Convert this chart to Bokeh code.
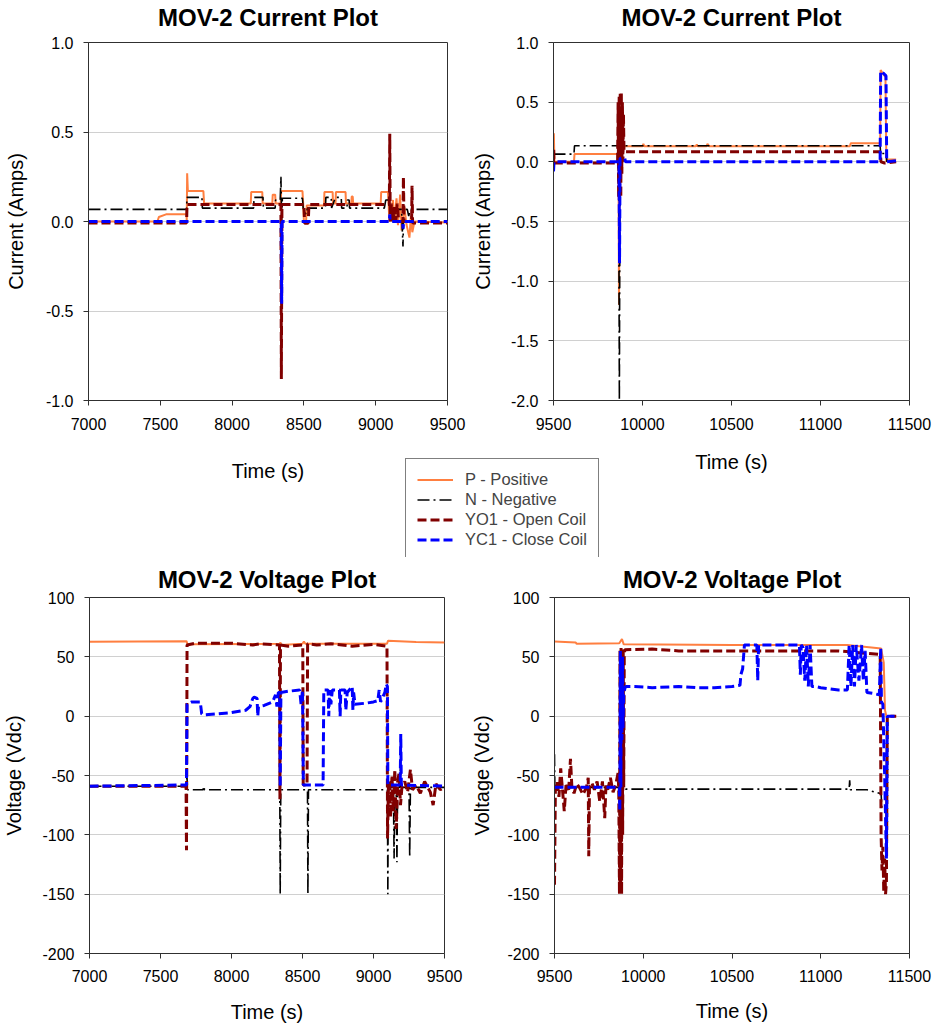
from bokeh.plotting import figure
from bokeh.models import (Range1d, FixedTicker, NumeralTickFormatter, Legend, LegendItem)
from bokeh.layouts import column, row
from bokeh.embed import file_html
from bokeh.resources import INLINE

FONT = "Liberation Sans"

# ---------------- tick labels / ranges ----------------
x_ticks_a = [7000, 7500, 8000, 8500, 9000, 9500]
x_ticks_b = [9500, 10000, 10500, 11000, 11500]
cur_ticks_a = [-1.0, -0.5, 0.0, 0.5, 1.0]
cur_ticks_b = [-2.0, -1.5, -1.0, -0.5, 0.0, 0.5, 1.0]
volt_ticks = [-200, -150, -100, -50, 0, 50, 100]

series_names = ["P - Positive", "N - Negative", "YO1 - Open Coil", "YC1 - Close Coil"]

# ---------------- MOV-2 current, 7000-9500 s (time, amps) ----------------
cur1_P = [(7000, 0), (7480, 0), (7490, 0.025), (7540, 0.04), (7683, 0.04), (7684, 0.0), (7687, 0.27),
          (7692, 0.17), (7800, 0.17), (7805, 0.10), (8130, 0.10), (8133, 0.165), (8210, 0.165),
          (8213, 0.10), (8280, 0.10), (8283, 0.15), (8300, 0.15), (8303, 0.10), (8338, 0.10),
          (8342, 0.17), (8490, 0.17), (8495, 0.10), (8500, 0.0), (8515, 0.0), (8520, 0.09),
          (8640, 0.09), (8643, 0.165), (8700, 0.165), (8703, 0.10), (8720, 0.10), (8723, 0.165),
          (8790, 0.165), (8793, 0.10), (8830, 0.10), (8833, 0.14), (8840, 0.14), (8843, 0.10),
          (9035, 0.10), (9038, 0.165), (9085, 0.165), (9090, 0.10), (9095, 0.0), (9120, 0.12),
          (9130, 0.0), (9145, 0.13), (9155, -0.02), (9170, 0.15), (9180, -0.05), (9200, 0.08),
          (9215, -0.02), (9235, -0.09), (9245, 0.03), (9255, -0.06), (9270, 0.0), (9500, -0.005)]
cur1_N = [(7000, 0.068), (7683, 0.068), (7686, 0.135), (7790, 0.135), (7793, 0.075), (8150, 0.075),
          (8153, 0.135), (8215, 0.135), (8218, 0.075), (8300, 0.075), (8303, 0.12), (8335, 0.12),
          (8340, 0.25), (8345, 0.0), (8350, 0.13), (8490, 0.13), (8495, 0.075), (8515, 0.04),
          (8525, 0.075), (8650, 0.075), (8653, 0.135), (8690, 0.135), (8693, 0.075), (8720, 0.135),
          (8760, 0.135), (8763, 0.075), (8800, 0.075), (8803, 0.12), (8815, 0.12), (8818, 0.075),
          (9060, 0.075), (9070, 0.12), (9090, 0.12), (9095, 0.068), (9180, 0.068), (9190, -0.14),
          (9195, 0.068), (9220, 0.068), (9230, 0.03), (9240, 0.068), (9500, 0.068)]
cur1_YO1 = [(7000, -0.008), (7683, -0.008), (7686, 0.095), (8340, 0.095), (8343, -0.88), (8347, 0.095),
            (8500, 0.095), (8505, -0.01), (8530, -0.01), (8535, 0.095), (9095, 0.095), (9098, 0.49),
            (9101, 0.0), (9110, 0.1), (9120, 0.0), (9130, 0.08), (9140, 0.0), (9150, 0.1), (9160, 0.0),
            (9190, 0.0), (9193, 0.25), (9197, 0.0), (9250, 0.0), (9253, 0.20), (9257, -0.008),
            (9500, -0.008)]
cur1_YC1 = [(7000, 0.0), (8342, 0.0), (8345, -0.46), (8348, 0.0), (9095, 0.0), (9098, 0.04),
            (9101, 0.0), (9188, 0.0), (9191, -0.04), (9194, 0.0), (9500, 0.0)]

# ---------------- MOV-2 current, 9500-11500 s ----------------
cur2_P = [(9500, 0.0), (9502, 0.24), (9505, 0.0), (9615, 0.0), (9618, 0.065), (9865, 0.065),
          (9868, -1.2), (9872, 0.13), (9880, 0.0), (9890, 0.13), (10000, 0.13), (10005, 0.15),
          (10010, 0.13), (10300, 0.13), (10305, 0.145), (10310, 0.13), (10360, 0.13), (10365, 0.15),
          (10375, 0.13), (11165, 0.13), (11170, 0.155), (11335, 0.155), (11338, 0.77), (11350, 0.74),
          (11365, 0.71), (11370, 0.0), (11380, 0.02), (11425, 0.02)]
cur2_N = [(9500, 0.065), (9615, 0.065), (9618, 0.135), (9866, 0.135), (9870, -2.0), (9874, 0.135),
          (11335, 0.135), (11338, 0.07), (11370, 0.07), (11373, 0.0)]
cur2_YO1 = [(9500, -0.01), (9501, 0.1), (9503, -0.01), (9860, -0.01), (9863, 0.5), (9866, -0.3),
            (9869, 0.55), (9872, -0.2), (9875, 0.58), (9878, -0.3), (9881, 0.58), (9884, -0.1),
            (9887, 0.5), (9890, 0.0), (9893, 0.4), (9896, 0.085), (11335, 0.085), (11340, 0.0),
            (11360, -0.01), (11425, 0.0)]
cur2_YC1 = [(9500, -0.08), (9503, 0.0), (9868, 0.0), (9871, -0.85), (9874, 0.03), (9900, 0.03),
            (9905, 0.0), (11335, 0.0), (11338, 0.76), (11355, 0.74), (11368, 0.72), (11372, 0.0),
            (11425, 0.01)]

# ---------------- MOV-2 voltage, 7000-9500 s (time, Vdc) ----------------
volt1_P = [(7000, 62.8), (7683, 63.2), (7690, 60.5), (8340, 61), (8345, 62), (8350, 60), (8500, 61),
           (8510, 63), (8520, 61), (9095, 61), (9102, 63.5), (9300, 62.5), (9500, 62)]
volt1_N = [(7000, -59), (7683, -59), (7686, -48), (7690, -62), (7800, -62), (7805, -59), (7810, -62),
           (8340, -62), (8343, -150), (8347, -62), (8535, -62), (8538, -150), (8542, -62),
           (9098, -62), (9101, -150), (9104, -60), (9140, -60), (9145, -120), (9150, -60),
           (9160, -60), (9165, -123), (9170, -60), (9185, -60), (9190, -43), (9195, -60),
           (9250, -60), (9255, -119), (9260, -60), (9500, -60)]
volt1_YO1 = [(7000, -59), (7680, -59), (7683, -113), (7687, 60), (7750, 61.5), (8000, 61.5),
             (8150, 60), (8200, 61), (8338, 60), (8341, -70), (8345, 60), (8400, 59), (8502, 60),
             (8505, -58), (8532, -58), (8536, 61), (8600, 60), (8700, 61), (8850, 59), (9000, 60.5),
             (9095, 59), (9099, -103), (9105, -60), (9115, -55), (9120, -85), (9130, -50),
             (9140, -80), (9150, -45), (9160, -95), (9170, -55), (9180, -48), (9190, -75),
             (9200, -60), (9220, -55), (9240, -64), (9260, -45), (9275, -62), (9300, -58),
             (9330, -65), (9360, -55), (9400, -64), (9420, -75), (9440, -57), (9470, -62),
             (9500, -60)]
volt1_YC1 = [(7000, -59), (7683, -58), (7687, 10), (7720, 12), (7780, 12), (7790, 2), (7800, 1),
             (7900, 2), (8000, 3), (8100, 5), (8130, 8), (8150, 15), (8160, 16), (8180, 15),
             (8185, 0), (8190, 8), (8230, 9), (8290, 12), (8310, 18), (8320, 8), (8330, 20),
             (8340, 20), (8343, -60), (8348, 20), (8400, 21), (8480, 22), (8490, 10), (8500, 22),
             (8506, -58), (8645, -58), (8650, 22), (8680, 22), (8685, 0), (8690, 22), (8700, 10),
             (8710, 22), (8760, 22), (8765, 0), (8770, 22), (8800, 22), (8805, 5), (8815, 20),
             (8850, 25), (8855, 5), (8860, 20), (8870, 10), (8950, 11), (9000, 12), (9030, 13),
             (9040, 22), (9050, 12), (9080, 20), (9090, 27), (9098, 25), (9101, -58), (9188, -58),
             (9192, -15), (9196, -58), (9500, -59)]

# ---------------- MOV-2 voltage, 9500-11500 s ----------------
volt2_P = [(9500, 62.9), (9620, 62), (9625, 61), (9865, 61.5), (9880, 65), (9890, 60.5), (10500, 60),
           (11150, 60), (11340, 57), (11355, 45), (11362, 5), (11370, 0), (11425, 0)]
volt2_N = [(9500, -32), (9502, -60), (9865, -60), (9900, -61.5), (11160, -61.5), (11163, -54),
           (11166, -62), (11260, -62), (11330, -65), (11340, -65), (11345, -80)]
volt2_YO1 = [(9500, -142), (9505, -60), (9515, -55), (9525, -68), (9535, -44), (9545, -62),
             (9555, -80), (9565, -58), (9580, -62), (9590, -36), (9598, -60), (9610, -65),
             (9625, -57), (9640, -60), (9660, -66), (9680, -60), (9690, -52), (9693, -118),
             (9697, -60), (9710, -56), (9725, -62), (9740, -55), (9755, -72), (9770, -55),
             (9783, -86), (9790, -58), (9800, -62), (9815, -52), (9830, -64), (9845, -58),
             (9858, -48), (9862, -62), (9866, -150), (9869, 56), (9872, -140), (9875, 58),
             (9878, -150), (9881, 55), (9884, -100), (9887, 57), (9890, -60), (9893, 50),
             (9896, 56), (10050, 56.5), (10200, 55), (11100, 55), (11330, 52), (11335, 52),
             (11340, -100), (11345, -130), (11350, -110), (11355, -148), (11360, -120),
             (11365, -150), (11370, -140), (11375, 0), (11425, 0)]
volt2_YC1 = [(9500, -60), (9865, -60), (9868, -80), (9871, 55), (9874, -60), (9877, 40), (9880, -20),
             (9883, 50), (9886, -10), (9890, 20), (9900, 25), (9950, 25), (10050, 24), (10200, 25),
             (10300, 24), (10400, 24), (10500, 25), (10545, 26), (10550, 35), (10560, 40),
             (10570, 60), (10640, 60), (10645, 30), (10650, 60), (10880, 60), (10885, 35),
             (10890, 60), (10900, 58), (10910, 30), (10920, 60), (10930, 25), (10940, 60),
             (10950, 25), (10970, 25), (11000, 24), (11100, 22), (11150, 22), (11160, 60),
             (11170, 25), (11180, 60), (11190, 25), (11200, 60), (11215, 30), (11230, 60),
             (11240, 30), (11250, 55), (11260, 20), (11300, 19), (11330, 18), (11338, 58),
             (11342, 12), (11350, 10), (11360, -50), (11370, -120), (11375, 0), (11425, 0)]

STYLES = [
    dict(line_color="#FF7F40", line_width=2.0, line_dash="solid"),
    dict(line_color="#000000", line_width=1.6, line_dash="12 4 2 4"),
    dict(line_color="#800000", line_width=3.0, line_dash="9 4"),
    dict(line_color="#0000FF", line_width=3.0, line_dash="9 4"),
]


def panel(title, xr, xt, yr, yt, yfmt, ylabel, w, h, bl, br, bt, bb,
          xtick_so, xlab_so, ylab_so, title_so, series):
    p = figure(width=w, height=h, x_range=Range1d(*xr), y_range=Range1d(*yr),
               output_backend="svg", toolbar_location=None, title=title,
               min_border_left=bl, min_border_right=br, min_border_top=bt, min_border_bottom=bb)
    p.title.text_font = FONT
    p.title.text_font_size = "24px"
    p.title.text_font_style = "bold"
    p.title.text_color = "black"
    p.title.align = "center"
    p.title.standoff = title_so
    p.xaxis.ticker = FixedTicker(ticks=xt)
    p.yaxis.ticker = FixedTicker(ticks=yt)
    p.xaxis.formatter = NumeralTickFormatter(format="0")
    p.yaxis.formatter = NumeralTickFormatter(format=yfmt)
    p.xaxis.axis_label = "Time (s)"
    p.yaxis.axis_label = ylabel
    for ax in p.xaxis + p.yaxis:
        ax.axis_line_color = "#303030"
        ax.axis_line_width = 1
        ax.major_tick_line_color = "#303030"
        ax.major_tick_out = 5
        ax.major_tick_in = 0
        ax.minor_tick_line_color = None
        ax.major_label_text_font = FONT
        ax.major_label_text_font_size = "16px"
        ax.major_label_text_color = "black"
        ax.axis_label_text_font = FONT
        ax.axis_label_text_font_size = "20px"
        ax.axis_label_text_font_style = "normal"
        ax.axis_label_text_color = "black"
    p.xaxis.major_label_standoff = xtick_so
    p.yaxis.major_label_standoff = 10
    p.xaxis.axis_label_standoff = xlab_so
    p.yaxis.axis_label_standoff = ylab_so
    p.xgrid.grid_line_color = None
    p.ygrid.grid_line_color = "#d0d0d0"
    p.ygrid.grid_line_width = 1
    p.outline_line_color = "#303030"
    p.outline_line_width = 1
    p.background_fill_color = "white"
    p.border_fill_color = None
    for data, st in zip(series, STYLES):
        t = [d[0] for d in data]
        v = [d[1] for d in data]
        p.line(t, v, **st)
    return p


TOP_SHIFT = 13          # top row starts slightly above the page edge
TOP_H = 484 + TOP_SHIFT
BOT_START = 551
BOT_H = 1028 - BOT_START

p1 = panel("MOV-2 Current Plot", (7000, 9500), x_ticks_a, (-1.0, 1.0), cur_ticks_a, "0.0",
           "Current (Amps)", 468, TOP_H, 88, 21, 42 + TOP_SHIFT, TOP_H - 400 - TOP_SHIFT,
           12, 27, 16, 24, [cur1_P, cur1_N, cur1_YO1, cur1_YC1])
p2 = panel("MOV-2 Current Plot", (9500, 11500), x_ticks_b, (-2.0, 1.0), cur_ticks_b, "0.0",
           "Current (Amps)", 468, TOP_H, 82, 27, 42 + TOP_SHIFT, TOP_H - 400 - TOP_SHIFT,
           12, 18, 14, 24, [cur2_P, cur2_N, cur2_YO1, cur2_YC1])
p3 = panel("MOV-2 Voltage Plot", (7000, 9500), x_ticks_a, (-200, 100), volt_ticks, "0",
           "Voltage (Vdc)", 468, BOT_H, 85, 24, 594 - BOT_START, BOT_H - (953 - BOT_START),
           11, 16, 14, 10, [volt1_P, volt1_N, volt1_YO1, volt1_YC1])
p4 = panel("MOV-2 Voltage Plot", (9500, 11500), x_ticks_b, (-200, 100), volt_ticks, "0",
           "Voltage (Vdc)", 468, BOT_H, 82, 27, 597 - BOT_START, BOT_H - (956 - BOT_START),
           11, 15, 11, 10, [volt2_P, volt2_N, volt2_YO1, volt2_YC1])

# ---------------- shared legend ----------------
lf = figure(width=196, height=100, output_backend="svg", toolbar_location=None,
            x_range=Range1d(0, 1), y_range=Range1d(0, 1), x_axis_type=None, y_axis_type=None,
            min_border=0, margin=(457 - (TOP_H - TOP_SHIFT), 0, BOT_START - 557, 404))
lf.outline_line_color = None
lf.background_fill_color = "white"
lf.border_fill_color = None
rs = [lf.line([-5, -4], [-5, -4], **st) for st in STYLES]
legend = Legend(items=[LegendItem(label=n, renderers=[r]) for n, r in zip(series_names, rs)],
                location="top_left", margin=1, padding=11, spacing=1,
                glyph_width=36, glyph_height=19, label_height=19, label_standoff=12,
                label_text_font=FONT, label_text_font_size="16.5px",
                border_line_color="black", border_line_width=1,
                background_fill_color="white", background_fill_alpha=1)
lf.add_layout(legend, "center")

top_row = row(p1, p2, margin=(-TOP_SHIFT, 0, 0, 0))
layout = column(top_row, lf, row(p3, p4))
open("out.html", "w").write(file_html(layout, INLINE))
